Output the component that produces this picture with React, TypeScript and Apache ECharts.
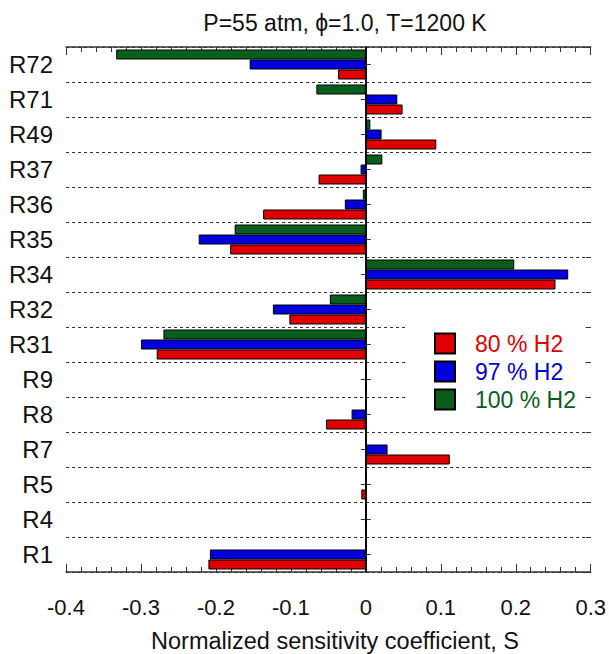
import React, { useEffect, useRef } from "react";
import * as echarts from "echarts";

// categories listed top to bottom
const categories = ["R72", "R71", "R49", "R37", "R36", "R35", "R34", "R32", "R31", "R9", "R8", "R7", "R5", "R4", "R1"];
const seriesNames = ["80 % H2", "97 % H2", "100 % H2"];
const h2_80 = [-0.037, 0.049, 0.094, -0.063, -0.137, -0.181, 0.253, -0.102, -0.279, 0.001, -0.053, 0.112, -0.006, 0, -0.21];
const h2_97 = [-0.155, 0.042, 0.021, -0.007, -0.028, -0.223, 0.27, -0.124, -0.3, 0.001, -0.019, 0.029, 0.001, 0.0005, -0.208];
const h2_100 = [-0.333, -0.066, 0.006, 0.022, -0.004, -0.175, 0.198, -0.048, -0.27, 0, 0, 0, 0, 0, 0];
const colors = ["#e00000", "#0000dd", "#0a5e1c"];
const xTicks = { min: -0.4, max: 0.3, interval: 0.1 };

const FONT = "'Liberation Sans', Arial, sans-serif";

export default function App() {
  const ref = useRef<HTMLDivElement>(null);
  useEffect(() => {
    document.body.style.margin = "0";
    const chart = echarts.init(ref.current!, null, { renderer: "svg" });
    const frame = { lineStyle: { color: "#333", width: 1.5 } };
    const valueAxisBase = {
      type: "value",
      min: xTicks.min,
      max: xTicks.max,
      interval: xTicks.interval,
      axisLine: { show: true, onZero: false, ...frame },
      axisTick: { show: true, inside: true, length: 8, lineStyle: { color: "#333" } },
      minorTick: { show: true, splitNumber: 5, length: 5, lineStyle: { color: "#333" } },
      splitLine: { show: false },
    };
    const datas = [h2_80, h2_97, h2_100];
    // with the inverted category axis the first series is drawn on top, so add them in reverse
    const series: any[] = [2, 1, 0].map((i) => ({
      name: seriesNames[i],
      type: "bar",
      data: datas[i],
      barWidth: 10,
      barGap: "0%",
      itemStyle: { color: colors[i], borderColor: "#000", borderWidth: 1 },
    }));
    series[0].markLine = {
      silent: true,
      symbol: "none",
      label: { show: false },
      lineStyle: { color: "#000", width: 1.5, type: "solid" },
      data: [{ xAxis: 0 }],
    };
    chart.setOption({
      animation: false,
      textStyle: { fontFamily: FONT },
      grid: { left: 66, right: 18, top: 47, bottom: 82, containLabel: false },
      legend: {
        orient: "vertical",
        left: 408,
        top: 326,
        padding: [6, 9, 8, 26],
        backgroundColor: "#fff",
        icon: "rect",
        itemWidth: 20,
        itemHeight: 20,
        itemGap: 5,
        selectedMode: false,
        itemStyle: { borderColor: "#000", borderWidth: 2 },
        textStyle: { fontSize: 23, lineHeight: 20, fontFamily: FONT, padding: [0, 0, 0, 15] },
        data: seriesNames.map((n, i) => ({ name: n, textStyle: { color: colors[i] } })),
      },
      xAxis: [
        {
          ...valueAxisBase,
          position: "bottom",
          axisLabel: { fontSize: 22, color: "#111", margin: 24, fontFamily: FONT },
        },
        {
          ...valueAxisBase,
          position: "top",
          axisLabel: { show: false },
        },
      ],
      yAxis: [
        {
          type: "category",
          data: categories,
          inverse: true,
          position: "left",
          axisLine: { show: true, ...frame },
          axisTick: { show: true, inside: true, alignWithLabel: true, length: 5, lineStyle: { color: "#333" } },
          axisLabel: { fontSize: 24, color: "#111", margin: 13, fontFamily: FONT },
          splitLine: { show: true, lineStyle: { color: "#333", type: [3, 3], width: 1 } },
        },
        {
          type: "category",
          data: categories,
          inverse: true,
          position: "right",
          axisLine: { show: true, ...frame },
          axisTick: { show: true, inside: true, alignWithLabel: true, length: 5, lineStyle: { color: "#333" } },
          axisLabel: { show: false },
          splitLine: { show: false },
        },
        {
          type: "category",
          data: categories,
          inverse: true,
          position: "right",
          axisLine: { show: false },
          axisTick: { show: true, inside: true, alignWithLabel: false, length: 5, lineStyle: { color: "#333" } },
          axisLabel: { show: false },
          splitLine: { show: false },
        },
      ],
      graphic: [
        {
          type: "text",
          x: 345,
          y: 23,
          style: {
            text: "P=55 atm, \u03d5=1.0, T=1200 K",
            fontSize: 23,
            fontFamily: FONT,
            fill: "#111",
            textAlign: "center",
            textVerticalAlign: "middle",
          },
        },
        {
          type: "text",
          x: 335,
          y: 641,
          style: {
            text: "Normalized sensitivity coefficient, S",
            fontSize: 23.5,
            fontFamily: FONT,
            fill: "#111",
            textAlign: "center",
            textVerticalAlign: "middle",
          },
        },
      ],
      series,
    });
    return () => chart.dispose();
  }, []);
  return <div ref={ref} style={{ width: 609, height: 654 }} />;
}
